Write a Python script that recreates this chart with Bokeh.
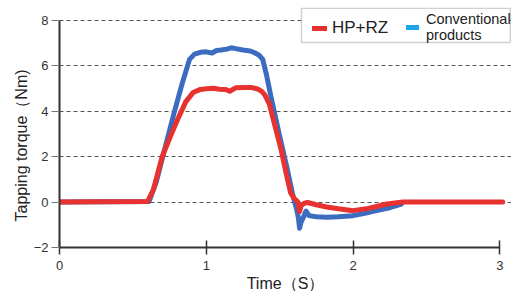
from bokeh.plotting import figure
from bokeh.models import Range1d, Legend, LegendItem, BoxAnnotation, FixedTicker, Title
from bokeh.embed import file_html
from bokeh.resources import INLINE

# ---- data ----
t_hp = [0, 0.60, 0.64, 0.70, 0.76, 0.81, 0.86, 0.91, 0.96, 1.00, 1.05, 1.09, 1.13, 1.16,
        1.20, 1.26, 1.31, 1.35, 1.38, 1.40, 1.43, 1.47, 1.51, 1.55, 1.575, 1.60, 1.625,
        1.636, 1.647, 1.67, 1.69, 1.75, 1.82, 1.90, 2.00, 2.09, 2.16, 2.23, 2.30, 2.34, 3.02]
y_hp = [0, 0.02, 0.55, 2.0, 2.95, 3.7, 4.4, 4.81, 4.95, 4.98, 5.0, 4.96, 4.95, 4.87,
        5.02, 5.03, 5.03, 4.97, 4.85, 4.7, 4.3, 3.3, 2.3, 1.1, 0.4, 0.15, 0.0,
        -0.42, -0.15, -0.05, -0.02, -0.12, -0.22, -0.3, -0.38, -0.3, -0.2, -0.09, -0.03, 0, 0]

t_cv = [0, 0.61, 0.66, 0.72, 0.78, 0.84, 0.886, 0.92, 0.96, 1.00, 1.04, 1.07, 1.10, 1.14,
        1.17, 1.20, 1.25, 1.30, 1.33, 1.36, 1.385, 1.41, 1.44, 1.50, 1.55, 1.59, 1.615,
        1.628, 1.636, 1.645, 1.66, 1.68, 1.70, 1.75, 1.82, 1.90, 2.00, 2.08, 2.16, 2.25, 2.33]
y_cv = [0, 0.02, 0.9, 2.4, 3.9, 5.3, 6.27, 6.5, 6.58, 6.6, 6.55, 6.66, 6.68, 6.72,
        6.78, 6.74, 6.68, 6.64, 6.56, 6.45, 6.27, 5.6, 4.66, 2.9, 1.5, 0.3, -0.3,
        -0.7, -1.15, -0.9, -0.7, -0.4, -0.6, -0.65, -0.67, -0.65, -0.6, -0.5, -0.38, -0.25, -0.09]

x_ticks = [0, 1, 2, 3]
y_ticks = [-2, 0, 2, 4, 6, 8]
series_names = ["HP+RZ", "Conventional\nproducts"]
x_title = "Time（S）"
y_title = "Tapping torque（Nm)"

RED = "#e8322f"
BLUE = "#3b6cc0"
LEG_BLUE = "#1fa6e8"
FONT = "Liberation Sans"

p = figure(frame_width=452, frame_height=240,
           x_range=Range1d(0, 3.08), y_range=Range1d(-2, 8.55),
           output_backend="svg", toolbar_location=None,
           min_border_left=59, min_border_right=0, min_border_top=7, min_border_bottom=30)
p.outline_line_color = None
p.background_fill_color = "white"

p.line(t_cv, y_cv, line_color=BLUE, line_width=5, line_cap="round", line_join="round")
p.line(t_hp, y_hp, line_color=RED, line_width=5, line_cap="round", line_join="round")

# axes
p.xaxis.bounds = (0, 3)
p.xaxis.ticker = FixedTicker(ticks=x_ticks)
p.xaxis.major_tick_in = 7
p.xaxis.major_tick_out = 7
p.xaxis.minor_tick_line_color = None
p.xaxis.axis_line_width = 2
p.xaxis.axis_line_color = "#333333"
p.xaxis.major_tick_line_color = "#333333"
p.xaxis.major_tick_line_width = 1.5
p.xaxis.major_label_standoff = 6

p.yaxis.bounds = (-2, 8)
p.yaxis.ticker = FixedTicker(ticks=y_ticks)
p.yaxis.major_tick_in = 0
p.yaxis.major_tick_out = 8
p.yaxis.minor_tick_line_color = None
p.yaxis.axis_line_width = 2
p.yaxis.axis_line_color = "#333333"
p.yaxis.major_tick_line_color = "#777777"
p.yaxis.major_tick_line_width = 1
p.yaxis.major_label_standoff = 3

for ax in (p.xaxis, p.yaxis):
    ax.major_label_text_font = FONT
    ax.major_label_text_font_size = "13px"
    ax.major_label_text_color = "#333333"

# axis titles as side titles
p.add_layout(Title(text=y_title, align="left", offset=26, standoff=2,
                   text_font=FONT, text_font_size="16px", text_font_style="normal",
                   text_color="#222222"), "left")
p.add_layout(Title(text=x_title, align="center", offset=4, standoff=0,
                   text_font=FONT, text_font_size="16px", text_font_style="normal",
                   text_color="#222222"), "below")

p.xgrid.visible = False
p.ygrid.ticker = FixedTicker(ticks=[0, 2, 4, 6, 8])
p.ygrid.grid_line_color = "#555555"
p.ygrid.grid_line_dash = "4 3"
p.ygrid.grid_line_width = 1

# legend
box = BoxAnnotation(left=1.649, right=3.072, top=8.52, bottom=7.01,
                    fill_color="white", fill_alpha=1.0,
                    line_color="#666666", line_width=1.5)
p.add_layout(box)

# one-point proxies (draw nothing in the plot) that give the legend swatches
r1 = p.line(x=t_hp[:1], y=y_hp[:1], line_color=RED, line_width=5, line_cap="round")
r2 = p.line(x=t_cv[:1], y=y_cv[:1], line_color=LEG_BLUE, line_width=5, line_cap="round")

legA = Legend(items=[LegendItem(label=series_names[0], renderers=[r1])],
              location=(253, 209), orientation="horizontal",
              border_line_color=None, background_fill_alpha=0,
              padding=0, margin=0, spacing=0,
              glyph_width=15, glyph_height=20, label_height=20,
              label_standoff=5, label_text_font=FONT, label_text_font_size="17px",
              label_text_color="#222222")
legB = Legend(items=[LegendItem(label=series_names[1], renderers=[r2])],
              location=(347, 203), orientation="horizontal",
              border_line_color=None, background_fill_alpha=0,
              padding=0, margin=0, spacing=0,
              glyph_width=13, glyph_height=34, label_height=34,
              label_standoff=7, label_text_font=FONT, label_text_font_size="14.5px",
              label_text_line_height=1.0,
              label_text_color="#222222")
p.add_layout(legA)
p.add_layout(legB)

open("out.html", "w").write(file_html(p, INLINE))
